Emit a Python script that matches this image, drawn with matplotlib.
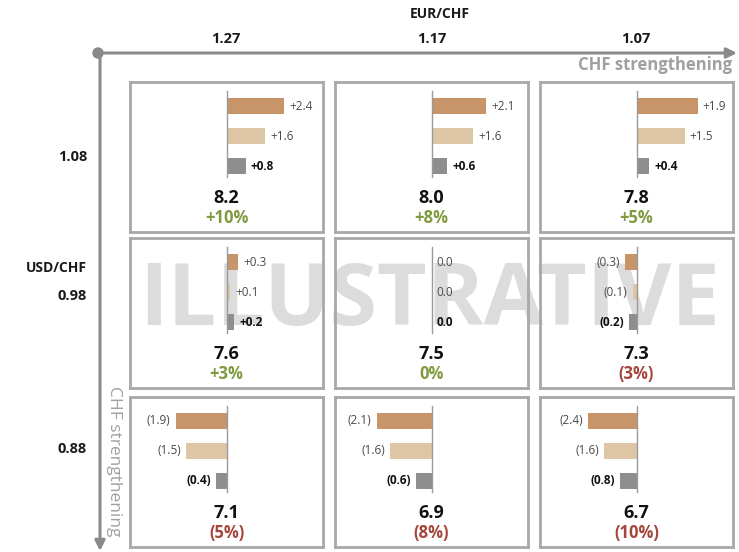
import matplotlib
matplotlib.use('Agg')
import matplotlib.pyplot as plt
from matplotlib.patches import Circle

plt.rcParams['font.family'] = ['Open Sans', 'DejaVu Sans']

# EUR/CHF across the columns, USD/CHF down the rows
eur_chf = ['1.27', '1.17', '1.07']
usd_chf = ['1.08', '0.98', '0.88']

# three bar components per cell
bars = [
    [[2.4, 1.6, 0.8], [2.1, 1.6, 0.6], [1.9, 1.5, 0.4]],
    [[0.3, 0.1, 0.2], [0.0, 0.0, 0.0], [-0.3, -0.1, -0.2]],
    [[-1.9, -1.5, -0.4], [-2.1, -1.6, -0.6], [-2.4, -1.6, -0.8]],
]
totals = [[8.2, 8.0, 7.8], [7.6, 7.5, 7.3], [7.1, 6.9, 6.7]]
pct = [[10, 8, 5], [3, 0, -3], [-5, -8, -10]]

# half-width of the bar scale in each cell
half_span = [[4.0, 3.7, 3.0], [2.5, 2.5, 2.5], [3.6, 3.7, 4.8]]

bar_colors = ['#C8946A', '#DEC5A6', '#8E8E8E']
green = '#7F9B3E'
red = '#A5453C'
frame = '#A8A8A8'
axis_grey = '#8A8A8A'

W, H = 739, 552
fig = plt.figure(figsize=(W / 100, H / 100), dpi=100)

def fbox(x, y, w, h):
    # pixel box (top-left origin) -> figure fraction
    return [x / W, 1 - (y + h) / H, w / W, h / H]

# background layer for axes arrows and headings
bg = fig.add_axes([0, 0, 1, 1])
bg.set_xlim(0, W)
bg.set_ylim(H, 0)
bg.axis('off')
bg.set_zorder(0)

bg.annotate('', xy=(737, 53), xytext=(98, 53),
            arrowprops=dict(arrowstyle='-|>,head_length=0.6,head_width=0.3',
                            color=axis_grey, lw=2.2, shrinkA=0, shrinkB=0))
bg.annotate('', xy=(100, 551), xytext=(100, 53),
            arrowprops=dict(arrowstyle='-|>,head_length=0.6,head_width=0.3',
                            color=axis_grey, lw=2.2, shrinkA=0, shrinkB=0))
bg.add_patch(Circle((98, 53), 5, color=axis_grey))

bg.text(440, 14, 'EUR/CHF', ha='center', va='center', fontsize=10, fontweight='bold', color='#1A1A1A')
col_x = [226, 432, 636]
for x, lab in zip(col_x, eur_chf):
    bg.text(x, 39, lab, ha='center', va='center', fontsize=10.5, fontweight='bold', color='#1A1A1A')
bg.text(732, 65, 'CHF strengthening', ha='right', va='center', fontsize=12,
        fontweight='bold', color='#A0A0A0')

row_y = [157, 296, 449]
for y, lab in zip(row_y, usd_chf):
    bg.text(87, y, lab, ha='right', va='center', fontsize=10.5, fontweight='bold', color='#1A1A1A')
bg.text(87, 268, 'USD/CHF', ha='right', va='center', fontsize=10, fontweight='bold', color='#1A1A1A')
bg.text(114, 461, 'CHF strengthening', ha='center', va='center', rotation=-90,
        fontsize=12.5, color='#A0A0A0')

# watermark sits under the cells
fig.text(430 / W, 1 - 302 / H, 'ILLUSTRATIVE', ha='center', va='center',
         fontsize=62, fontweight='bold', color='#DCDCDC', zorder=0.5)

def fmt(v):
    if v > 0:
        return '+%.1f' % v
    if v < 0:
        return '(%.1f)' % abs(v)
    return '0.0'

def fmt_pct(p):
    if p > 0:
        return '+%d%%' % p
    if p < 0:
        return '(%d%%)' % abs(p)
    return '0%'

lefts = [130, 335, 540]
tops = [82, 238, 397]
for r in range(3):
    for c in range(3):
        ax = fig.add_axes(fbox(lefts[c], tops[r], 193, 150))
        ax.set_zorder(1)
        ax.patch.set_alpha(0)
        s = half_span[r][c]
        ax.set_xlim(-s, s)
        ax.set_ylim(4.2, -0.8)
        ax.set_xticks([])
        ax.set_yticks([])
        for sp in ax.spines.values():
            sp.set_color(frame)
            sp.set_linewidth(2)

        vals = bars[r][c]
        ax.barh(range(3), vals, height=0.53, color=bar_colors, zorder=2)
        ax.plot([0, 0], [-0.5, 2.37], color='#9A9A9A', lw=1, zorder=3)
        for i, v in enumerate(vals):
            bold = i == 2
            if v < 0:
                off, ha = -5, 'right'
            else:
                off, ha = 5, 'left'
            ax.annotate(fmt(v), xy=(v, i), xytext=(off * 0.72, 0), textcoords='offset points',
                        ha=ha, va='center', fontsize=8.5,
                        fontweight='bold' if bold else 'normal',
                        color='#111111' if bold else '#4A4A4A')

        ax.text(0, 3.07, '%.1f' % totals[r][c], ha='center', va='center',
                fontsize=13, fontweight='bold', color='#111111')
        p = pct[r][c]
        ax.text(0, 3.72, fmt_pct(p), ha='center', va='center', fontsize=12,
                fontweight='bold', color=red if p < 0 else green)

fig.savefig('out.png', dpi=100)
